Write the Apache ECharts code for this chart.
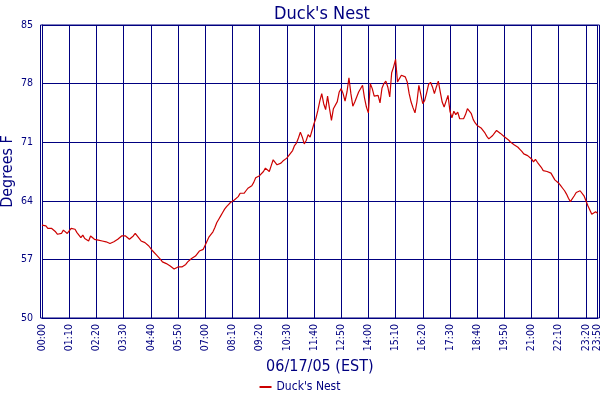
<!DOCTYPE html>
<html>
<head>
<meta charset="utf-8">
<script src="https://cdn.jsdelivr.net/npm/echarts@6/dist/echarts.min.js"></script>
<style>html,body{margin:0;padding:0;background:#fff}#c{width:600px;height:400px}</style>
</head>
<body>
<div id="c"></div>
<script>
const titleText = "Duck's Nest";
const seriesName = "Duck's Nest";
const xName = "06/17/05 (EST)";
const yName = "Degrees F";
const yTicks = [50, 57, 64, 71, 78, 85];

// 5-minute readings from 00:00 to 23:50
const times = [];
for (let m = 0; m <= 1430; m += 5) {
  const h = Math.floor(m / 60), mm = m % 60;
  times.push((h < 10 ? '0' : '') + h + ':' + (mm < 10 ? '0' : '') + mm);
}

const temps = [
61.1,61.0,61.0,60.7,60.6,60.7,60.6,60.3,60.0,60.0,
60.1,60.5,60.3,60.1,60.4,60.7,60.8,60.6,60.2,59.9,
59.6,59.9,59.5,59.3,59.2,59.8,59.6,59.4,59.3,59.3,
59.3,59.2,59.1,59.1,59.1,58.9,58.85,59.1,59.3,59.4,
59.6,59.8,59.9,59.8,59.6,59.4,59.6,59.8,60.1,59.8,
59.5,59.2,59.1,59.0,58.8,58.6,58.5,58.0,57.8,57.5,
57.3,57.0,56.7,56.6,56.5,56.3,56.2,56.0,55.85,56.0,
56.1,56.05,56.1,56.1,56.4,56.7,56.9,57.1,57.2,57.4,
57.6,58.0,58.2,58.2,58.7,59.2,59.7,60.0,60.3,60.8,
61.4,61.8,62.2,62.6,63.0,63.3,63.55,63.8,64.0,64.1,
64.2,64.5,64.9,64.9,64.9,65.2,65.5,65.6,65.8,66.2,
66.75,66.9,67.0,67.2,67.5,67.9,67.8,67.5,68.2,68.9,
68.6,68.3,68.3,68.5,68.75,68.9,69.1,69.4,69.7,70.0,
70.6,70.9,71.5,72.2,71.6,70.8,71.2,71.9,71.6,71.7,
73.2,73.85,74.8,75.9,76.8,75.6,74.9,76.5,75.0,73.6,
75.0,75.2,75.85,77.0,77.4,76.8,75.9,77.0,78.7,76.8,
75.3,75.8,75.7,77.0,76.8,77.8,76.3,75.2,74.5,78.0,
77.4,76.5,76.4,76.6,75.7,77.45,78.0,78.3,77.6,76.4,
79.3,80.0,80.9,78.2,78.4,79.0,79.1,78.8,78.2,76.8,
75.8,75.1,74.5,75.8,77.8,78.0,75.6,76.0,76.9,77.9,
78.15,77.6,76.8,77.6,78.3,77.0,75.8,75.2,75.4,76.6,
74.7,73.9,74.7,74.3,74.6,73.8,73.6,73.8,74.3,75.0,
74.9,74.4,73.7,73.3,73.0,72.8,72.7,72.6,72.1,71.7,
71.4,71.4,71.8,72.1,72.4,72.3,72.05,71.9,71.65,71.5,
71.3,71.05,70.85,70.7,70.5,70.4,70.15,69.9,69.6,69.5,
69.4,69.25,69.0,68.65,68.95,68.6,68.3,68.0,67.6,67.5,
67.5,67.4,67.3,67.1,66.5,66.3,66.1,65.8,65.5,65.2,
64.8,64.3,63.9,64.1,64.6,65.0,65.2,65.2,65.0,64.6,
64.0,63.4,62.9,62.4,62.6,62.7,62.5
];

const NAVY = '#000080';
const FONT = "'DejaVu Sans Condensed', 'DejaVu Sans', sans-serif";
const lastIdx = times.length - 1;
const showTick = (i) => i % 14 === 0 || i === lastIdx;

const chart = echarts.init(document.getElementById('c'), null, {renderer: 'canvas'});
chart.setOption({
  animation: false,
  backgroundColor: '#fff',
  textStyle: {fontFamily: FONT},
  title: {
    text: titleText, left: 317, top: 0, textAlign: 'center',
    textStyle: {color: NAVY, fontSize: 18, fontWeight: 'normal', fontFamily: FONT}
  },
  legend: {
    bottom: 2, left: 'center',
    data: [{name: seriesName, icon: 'rect'}],
    itemWidth: 12, itemHeight: 2, itemGap: 4,
    textStyle: {color: NAVY, fontSize: 12, fontFamily: FONT}
  },
  grid: [
    {left: 42, right: 2.4, top: 25, bottom: 82, containLabel: false, outerBoundsMode: 'none'},
    {left: 40.5, right: 0.5, top: 25, bottom: 82, containLabel: false, outerBoundsMode: 'none',
     show: true, borderColor: NAVY, borderWidth: 1, backgroundColor: 'transparent'}
  ],
  xAxis: [{
    type: 'category', gridIndex: 0, data: times, boundaryGap: false,
    name: xName, nameLocation: 'middle', nameGap: 40,
    nameTextStyle: {color: NAVY, fontSize: 16, fontFamily: FONT},
    axisLine: {show: true, lineStyle: {color: NAVY, width: 1}},
    axisTick: {show: false, interval: showTick},
    axisLabel: {interval: showTick, rotate: 90, color: NAVY, fontSize: 10.5, margin: 6, fontFamily: FONT},
    splitLine: {show: true, interval: showTick, lineStyle: {color: NAVY, width: 1}}
  }, {
    type: 'value', gridIndex: 1, show: false
  }],
  yAxis: [{
    type: 'value', gridIndex: 0, min: 50, max: 85, interval: 7,
    name: yName, nameLocation: 'middle', nameGap: 26, nameMoveOverlap: false,
    nameTextStyle: {color: NAVY, fontSize: 16, fontFamily: FONT},
    axisLine: {show: true, lineStyle: {color: NAVY, width: 1}},
    axisTick: {show: false},
    axisLabel: {color: NAVY, fontSize: 10.5, margin: 9, fontFamily: FONT,
      formatter: (v) => yTicks.indexOf(v) >= 0 ? String(v) : ''},
    splitLine: {show: true, lineStyle: {color: NAVY, width: 1}}
  }, {
    type: 'value', gridIndex: 1, show: false
  }],
  series: [{
    name: seriesName, type: 'line', xAxisIndex: 0, yAxisIndex: 0,
    data: temps, showSymbol: false, symbol: 'none',
    lineStyle: {color: '#cc0000', width: 1.2}, itemStyle: {color: '#cc0000'}
  }]
});
</script>
</body>
</html>
